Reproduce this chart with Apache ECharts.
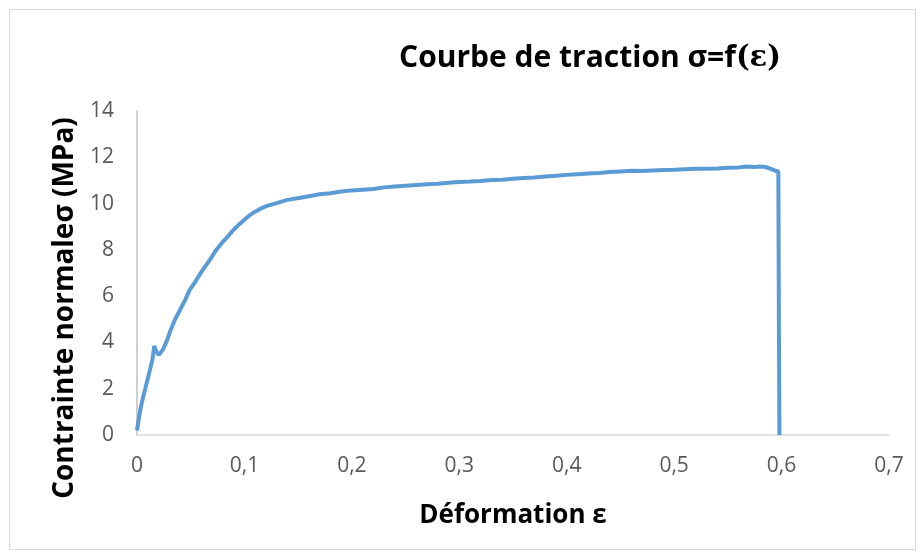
<!DOCTYPE html>
<html>
<head>
<meta charset="utf-8">
<script src="https://cdn.jsdelivr.net/npm/echarts@6/dist/echarts.min.js"></script>
<style>
  html, body { margin: 0; padding: 0; background: #fff; }
  #chart { width: 922px; height: 554px; }
</style>
</head>
<body>
<div id="chart"></div>
<script>
// déformation (ε) et contrainte (MPa)
var strain = [0, 0.003, 0.006, 0.009, 0.012, 0.0145, 0.016, 0.018, 0.0205, 0.0245, 0.028, 0.031, 0.035, 0.040, 0.045, 0.049, 0.054, 0.0586, 0.063, 0.068, 0.073, 0.079, 0.084, 0.0897, 0.095, 0.1, 0.105, 0.11, 0.115, 0.121, 0.13, 0.139, 0.152, 0.16, 0.17, 0.18, 0.19, 0.2, 0.21, 0.22, 0.23, 0.24, 0.25, 0.26, 0.27, 0.28, 0.29, 0.3, 0.31, 0.32, 0.33, 0.34, 0.35, 0.36, 0.37, 0.38, 0.39, 0.4, 0.41, 0.42, 0.43, 0.44, 0.45, 0.46, 0.47, 0.48, 0.49, 0.5, 0.51, 0.52, 0.53, 0.54, 0.55, 0.56, 0.567, 0.575, 0.58, 0.585, 0.59, 0.594, 0.597, 0.5975, 0.598]
var stress = [0.2, 1.08, 1.7, 2.25, 2.8, 3.3, 3.85, 3.6, 3.46, 3.72, 4.1, 4.5, 4.95, 5.4, 5.85, 6.27, 6.6, 6.95, 7.25, 7.58, 7.95, 8.3, 8.55, 8.86, 9.1, 9.3, 9.5, 9.65, 9.78, 9.9, 10.02, 10.15, 10.25, 10.32, 10.4, 10.45, 10.52, 10.57, 10.6, 10.63, 10.7, 10.74, 10.77, 10.8, 10.83, 10.86, 10.9, 10.93, 10.95, 10.98, 11.02, 11.03, 11.07, 11.1, 11.13, 11.17, 11.2, 11.24, 11.27, 11.3, 11.32, 11.36, 11.39, 11.42, 11.41, 11.43, 11.45, 11.46, 11.48, 11.5, 11.5, 11.52, 11.55, 11.56, 11.6, 11.58, 11.6, 11.58, 11.5, 11.42, 11.4, 5, 0]
var xTicks = [0, 0.1, 0.2, 0.3, 0.4, 0.5, 0.6, 0.7]
var yTicks = [0, 2, 4, 6, 8, 10, 12, 14]

var points = strain.map(function(e, i) { return [e, stress[i]] })

var chart = echarts.init(document.getElementById('chart'), null, { renderer: 'canvas' })

var option = {
  backgroundColor: '#ffffff',
  animation: false,
  title: {
    text: 'Courbe de traction σ=f{e|(ε)}',
    left: 585,
    top: 38,
    textAlign: 'center',
    textStyle: {
      fontFamily: 'Open Sans',
      fontWeight: 'bold',
      fontSize: 30,
      color: '#000000',
      rich: {
        e: { fontFamily: 'DejaVu Serif', fontSize: 29, fontWeight: 'bold', color: '#000000' }
      }
    }
  },
  graphic: [{
    type: 'rect',
    shape: { x: 9.5, y: 9.5, width: 906, height: 540 },
    style: { fill: null, stroke: '#d9d9d9', lineWidth: 1 },
    silent: true
  }, {
    // titre de l'axe vertical, placé un peu plus bas que le milieu comme dans Excel
    type: 'text',
    x: 65,
    y: 308,
    rotation: Math.PI / 2,
    silent: true,
    style: {
      text: 'Contrainte normaleσ (MPa)',
      fontFamily: 'Open Sans',
      fontWeight: 'bold',
      fontSize: 28,
      fill: '#000000',
      align: 'center',
      verticalAlign: 'middle'
    }
  }],
  grid: {
    left: 137,
    right: 33,
    top: 111,
    bottom: 119
  },
  xAxis: {
    type: 'value',
    min: xTicks[0],
    max: xTicks[xTicks.length - 1],
    interval: 0.1,
    name: 'Déformation ε',
    nameLocation: 'middle',
    nameGap: 68,
    nameTextStyle: { fontFamily: 'Open Sans', fontWeight: 'bold', fontSize: 26, color: '#000000' },
    axisLine: { show: true, lineStyle: { color: '#d9d9d9', width: 1.5 } },
    axisTick: { show: false },
    splitLine: { show: false },
    axisLabel: {
      margin: 21,
      fontFamily: 'Open Sans',
      fontSize: 21,
      color: '#595959',
      formatter: function(v) { return String(Math.round(v * 10) / 10).replace('.', ',') }
    }
  },
  yAxis: {
    type: 'value',
    min: yTicks[0],
    max: yTicks[yTicks.length - 1],
    interval: 2,
    axisLine: { show: true, lineStyle: { color: '#bfbfbf', width: 1.5 } },
    axisTick: { show: false },
    splitLine: { show: false },
    axisLabel: {
      margin: 23,
      fontFamily: 'Open Sans',
      fontSize: 21,
      color: '#595959'
    }
  },
  series: [{
    type: 'line',
    data: points,
    showSymbol: false,
    smooth: false,
    lineStyle: { color: '#5b9bd5', width: 4 },
    itemStyle: { color: '#5b9bd5' }
  }]
}

chart.setOption(option)
</script>
</body>
</html>
